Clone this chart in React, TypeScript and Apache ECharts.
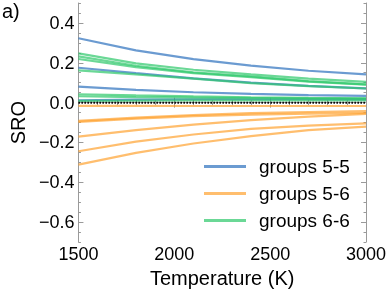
import React, { useEffect, useRef } from "react";
import * as echarts from "echarts";

const temps = [1500, 1800, 2100, 2400, 2700, 3000];

const blue55 = [
  [0.323, 0.262, 0.218, 0.186, 0.16, 0.142],
  [0.175, 0.148, 0.122, 0.1, 0.084, 0.072],
  [0.08, 0.064, 0.052, 0.044, 0.038, 0.034],
  [0.012, 0.015, 0.017, 0.017, 0.017, 0.016],
];
const orange56 = [
  [-0.016, -0.016, -0.017, -0.017, -0.017, -0.017],
  [-0.092, -0.075, -0.062, -0.053, -0.047, -0.043],
  [-0.097, -0.08, -0.068, -0.06, -0.055, -0.052],
  [-0.171, -0.138, -0.11, -0.088, -0.07, -0.056],
  [-0.244, -0.196, -0.16, -0.132, -0.115, -0.104],
  [-0.311, -0.252, -0.205, -0.168, -0.138, -0.12],
];
const green66 = [
  [0.247, 0.197, 0.165, 0.142, 0.12, 0.104],
  [0.232, 0.185, 0.152, 0.132, 0.108, 0.092],
  [0.219, 0.178, 0.148, 0.128, 0.105, 0.09],
  [0.162, 0.142, 0.12, 0.098, 0.083, 0.071],
  [0.042, 0.036, 0.031, 0.027, 0.024, 0.022],
  [0.032, 0.028, 0.025, 0.023, 0.021, 0.02],
  [0.009, 0.01, 0.011, 0.011, 0.011, 0.011],
];

const groupNames = ["groups 5-5", "groups 5-6", "groups 6-6"];
const yMajorTicks = [-0.6, -0.4, -0.2, 0.0, 0.2, 0.4];

const FONT = "Liberation Sans";
const AXIS_GRAY = "#9a9a9a";
const TEXT = "#000";

const fmtY = (v: number) => {
  const s = Math.abs(v).toFixed(1);
  return v < -1e-9 ? "\u2212" + s : s;
};

export default function App() {
  const ref = useRef<HTMLDivElement>(null);
  useEffect(() => {
    if (!ref.current) return;
    const chart = echarts.init(ref.current, null, { renderer: "svg" });
    const groups = [
      { name: groupNames[0], data: blue55, color: "#2c70bd", legend: "#6b9bd1" },
      { name: groupNames[1], data: orange56, color: "#ffa230", legend: "#ffbe6e" },
      { name: groupNames[2], data: green66, color: "#2cc769", legend: "#6bd896" },
    ];
    const series: any[] = [];
    groups.forEach((g) => {
      g.data.forEach((vals) => {
        series.push({
          type: "line",
          name: g.name,
          data: temps.map((t, i) => [t, vals[i]]),
          showSymbol: false,
          symbol: "none",
          lineStyle: { color: g.color, width: 2.2, opacity: 0.7 },
          itemStyle: { color: g.legend },
          silent: true,
        });
      });
    });
    series.push({
      type: "line",
      name: "zero",
      data: [
        [1500, 0],
        [3000, 0],
      ],
      symbol: "none",
      lineStyle: { color: "#000", width: 2, type: [1.5, 1.5] },
      silent: true,
      z: 5,
    });

    const yBase = {
      type: "value",
      min: -0.7,
      max: 0.5,
      splitLine: { show: false },
    };

    chart.setOption({
      animation: false,
      grid: { left: 68, right: 24, top: 3, bottom: 46, containLabel: false },
      graphic: [
        {
          type: "text",
          left: 2,
          top: 1,
          style: { text: "a)", font: `20px '${FONT}'`, fill: TEXT },
        },
      ],
      legend: {
        orient: "vertical",
        left: 199,
        top: 152,
        icon: "rect",
        itemWidth: 42,
        itemHeight: 3,
        itemGap: 8,
        textStyle: {
          fontFamily: FONT,
          fontSize: 19,
          color: TEXT,
          lineHeight: 19,
          padding: [0, 0, 0, 8],
        },
        data: groups.map((g) => ({ name: g.name, itemStyle: { color: g.legend } })),
      },
      xAxis: [
        {
          type: "value",
          min: 1500,
          max: 3000,
          interval: 500,
          position: "bottom",
          name: "Temperature (K)",
          nameLocation: "middle",
          nameGap: 21,
          nameTextStyle: { fontFamily: FONT, fontSize: 20, color: TEXT },
          axisLine: { show: true, lineStyle: { color: AXIS_GRAY, width: 1 } },
          axisTick: { show: true, inside: true, length: 5, lineStyle: { color: AXIS_GRAY } },
          minorTick: { show: true, splitNumber: 5, length: 2.5, lineStyle: { color: AXIS_GRAY } },
          axisLabel: {
            fontFamily: FONT,
            fontSize: 18,
            color: TEXT,
            margin: 3,
            formatter: (v: number) => String(Math.round(v)),
          },
          splitLine: { show: false },
        },
        {
          type: "value",
          min: 1500,
          max: 3000,
          interval: 500,
          position: "top",
          axisLine: { show: true, lineStyle: { color: AXIS_GRAY, width: 1 } },
          axisTick: { show: true, inside: true, length: 5, lineStyle: { color: AXIS_GRAY } },
          minorTick: { show: true, splitNumber: 5, length: 2.5, lineStyle: { color: AXIS_GRAY } },
          axisLabel: { show: false },
          splitLine: { show: false },
        },
      ],
      yAxis: [
        {
          ...yBase,
          position: "left",
          name: "SRO",
          nameLocation: "middle",
          nameGap: 48,
          nameTextStyle: { fontFamily: FONT, fontSize: 20, color: TEXT },
          axisLine: { show: true, lineStyle: { color: AXIS_GRAY, width: 1 } },
          axisTick: {
            show: true,
            inside: true,
            length: 5,
            customValues: yMajorTicks,
            lineStyle: { color: AXIS_GRAY },
          },
          axisLabel: {
            fontFamily: FONT,
            fontSize: 18,
            color: TEXT,
            margin: 4,
            customValues: yMajorTicks,
            formatter: fmtY,
          },
        },
        {
          ...yBase,
          position: "right",
          axisLine: { show: true, lineStyle: { color: AXIS_GRAY, width: 1 } },
          axisTick: {
            show: true,
            inside: true,
            length: 5,
            customValues: yMajorTicks,
            lineStyle: { color: AXIS_GRAY },
          },
          axisLabel: { show: false },
        },
        {
          ...yBase,
          position: "left",
          interval: 0.05,
          axisLine: { show: false },
          axisTick: { show: true, inside: true, length: 2.5, lineStyle: { color: AXIS_GRAY } },
          axisLabel: { show: false },
        },
        {
          ...yBase,
          position: "right",
          interval: 0.05,
          axisLine: { show: false },
          axisTick: { show: true, inside: true, length: 2.5, lineStyle: { color: AXIS_GRAY } },
          axisLabel: { show: false },
        },
      ],
      series,
    });
    return () => chart.dispose();
  }, []);
  return (
    <div
      ref={ref}
      style={{ position: "fixed", left: 0, top: 0, width: 390, height: 293 }}
    />
  );
}
